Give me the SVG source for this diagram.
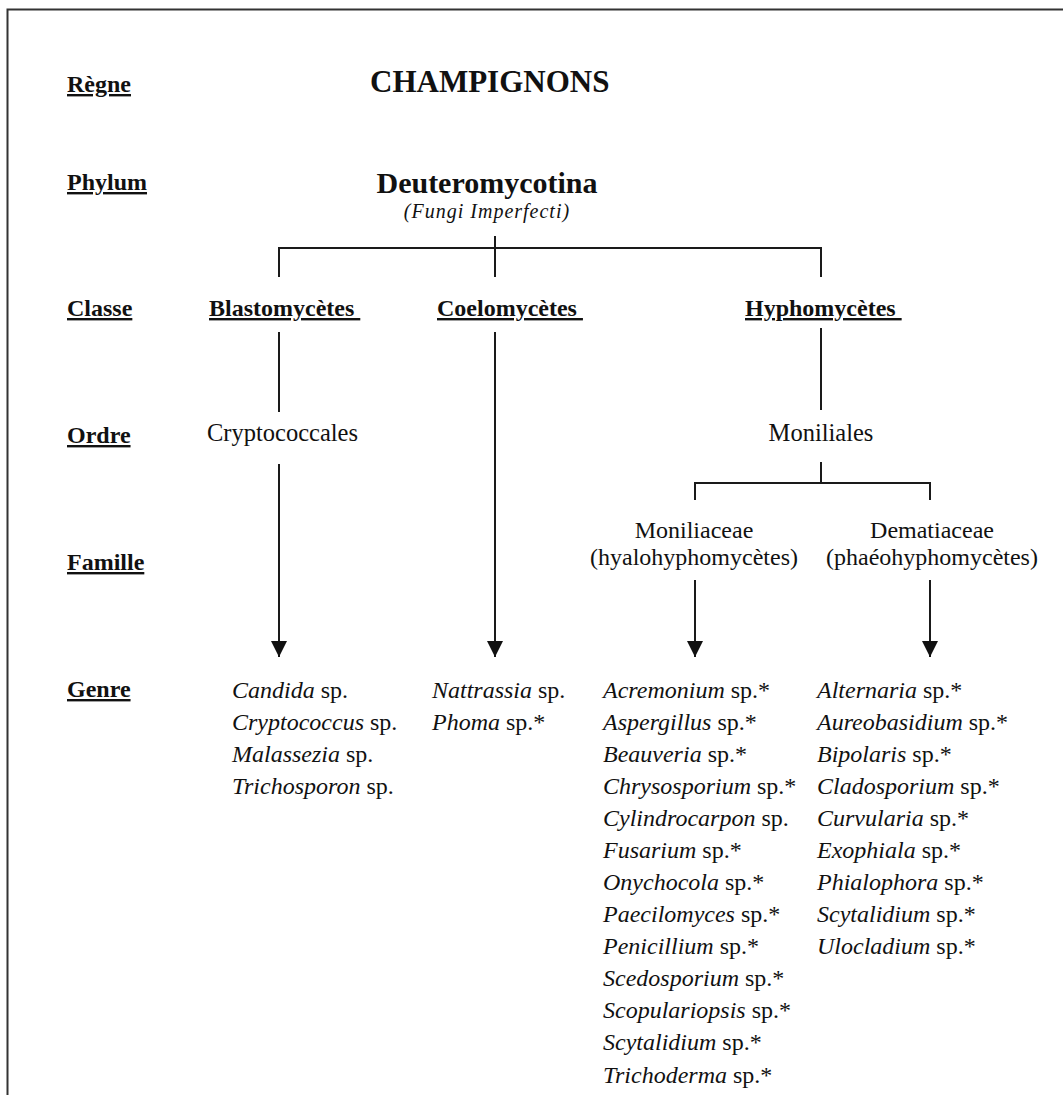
<svg xmlns="http://www.w3.org/2000/svg" width="1063" height="1095" viewBox="0 0 1063 1095">
<style>
text{font-family:"Liberation Serif","Times New Roman",serif;fill:#111}
.lbl{font-size:24px;font-weight:bold;text-decoration:underline}
.cls{font-size:24px;font-weight:bold;text-decoration:underline}
.reg{font-size:24.5px}
.fam{font-size:24px;text-anchor:middle}
.gen{font-size:24px}
.gen .i{font-style:italic}
.con{stroke:#1a1a1a;stroke-width:2;fill:none}
.frame{stroke:#333;stroke-width:2;fill:none}
</style>
<defs>
<marker id="ah" viewBox="0 0 16 16" refX="16" refY="8" markerWidth="16" markerHeight="16" markerUnits="userSpaceOnUse" orient="auto">
<path d="M0,0 L16,8 L0,16 Z" fill="#111"/>
</marker>
</defs>
<rect width="1063" height="1095" fill="#fff"/>
<path class="frame" d="M7.5,1095 V9.5 H1063"/>

<g id="labels">
<text class="lbl" x="67" y="92">Règne</text>
<text class="lbl" x="67" y="190">Phylum</text>
<text class="lbl" x="67" y="316">Classe</text>
<text class="lbl" x="67" y="443">Ordre</text>
<text class="lbl" x="67" y="570">Famille</text>
<text class="lbl" x="67" y="697">Genre</text>
</g>

<g id="regne"><text x="370" y="92" style="font-size:31px;font-weight:bold">CHAMPIGNONS</text></g>
<g id="phylum">
<text x="487" y="193" style="font-size:30px;font-weight:bold;text-anchor:middle">Deuteromycotina</text>
<text x="487" y="218" style="font-size:20px;font-style:italic;letter-spacing:1px;text-anchor:middle">(Fungi Imperfecti)</text>
</g>

<g id="blastomycetes"><text class="cls" x="209" y="316">Blastomycètes&#160;</text></g>
<g id="coelomycetes"><text class="cls" x="437" y="316">Coelomycètes&#160;</text></g>
<g id="hyphomycetes"><text class="cls" x="745" y="316">Hyphomycètes&#160;</text></g>

<g id="cryptococcales"><text class="reg" x="207" y="441">Cryptococcales</text></g>
<g id="moniliales"><text class="reg" x="821" y="441" text-anchor="middle">Moniliales</text></g>

<g id="moniliaceae">
<text class="fam" x="694" y="538">Moniliaceae</text>
<text class="fam" x="694" y="565">(hyalohyphomycètes)</text>
</g>
<g id="dematiaceae">
<text class="fam" x="932" y="538">Dematiaceae</text>
<text class="fam" x="932" y="565">(phaéohyphomycètes)</text>
</g>

<g id="connectors">
<path class="con" d="M279,277 V248 H821 V277"/>
<path class="con" d="M495,236 V277"/>
<path class="con" d="M279,332 V412"/>
<path class="con" d="M279,464 V657" marker-end="url(#ah)"/>
<path class="con" d="M495,332 V657" marker-end="url(#ah)"/>
<path class="con" d="M821,328 V410"/>
<path class="con" d="M821,462 V483"/>
<path class="con" d="M695,500 V483 H930 V500"/>
<path class="con" d="M695,580 V657" marker-end="url(#ah)"/>
<path class="con" d="M930,580 V657" marker-end="url(#ah)"/>
</g>

<g id="genre-blasto" class="gen">
<text x="232" y="698"><tspan class="i">Candida</tspan> sp.</text>
<text x="232" y="730"><tspan class="i">Cryptococcus</tspan> sp.</text>
<text x="232" y="762"><tspan class="i">Malassezia</tspan> sp.</text>
<text x="232" y="794"><tspan class="i">Trichosporon</tspan> sp.</text>
</g>
<g id="genre-coelo" class="gen">
<text x="432" y="698"><tspan class="i">Nattrassia</tspan> sp.</text>
<text x="432" y="730"><tspan class="i">Phoma</tspan> sp.*</text>
</g>
<g id="genre-monil" class="gen">
<text x="603" y="698"><tspan class="i">Acremonium</tspan> sp.*</text>
<text x="603" y="730"><tspan class="i">Aspergillus</tspan> sp.*</text>
<text x="603" y="762"><tspan class="i">Beauveria</tspan> sp.*</text>
<text x="603" y="794"><tspan class="i">Chrysosporium</tspan> sp.*</text>
<text x="603" y="826"><tspan class="i">Cylindrocarpon</tspan> sp.</text>
<text x="603" y="858"><tspan class="i">Fusarium</tspan> sp.*</text>
<text x="603" y="890"><tspan class="i">Onychocola</tspan> sp.*</text>
<text x="603" y="922"><tspan class="i">Paecilomyces</tspan> sp.*</text>
<text x="603" y="954"><tspan class="i">Penicillium</tspan> sp.*</text>
<text x="603" y="986"><tspan class="i">Scedosporium</tspan> sp.*</text>
<text x="603" y="1018"><tspan class="i">Scopulariopsis</tspan> sp.*</text>
<text x="603" y="1050"><tspan class="i">Scytalidium</tspan> sp.*</text>
<text x="603" y="1083"><tspan class="i">Trichoderma</tspan> sp.*</text>
</g>
<g id="genre-demat" class="gen">
<text x="817" y="698"><tspan class="i">Alternaria</tspan> sp.*</text>
<text x="817" y="730"><tspan class="i">Aureobasidium</tspan> sp.*</text>
<text x="817" y="762"><tspan class="i">Bipolaris</tspan> sp.*</text>
<text x="817" y="794"><tspan class="i">Cladosporium</tspan> sp.*</text>
<text x="817" y="826"><tspan class="i">Curvularia</tspan> sp.*</text>
<text x="817" y="858"><tspan class="i">Exophiala</tspan> sp.*</text>
<text x="817" y="890"><tspan class="i">Phialophora</tspan> sp.*</text>
<text x="817" y="922"><tspan class="i">Scytalidium</tspan> sp.*</text>
<text x="817" y="954"><tspan class="i">Ulocladium</tspan> sp.*</text>
</g>
</svg>
